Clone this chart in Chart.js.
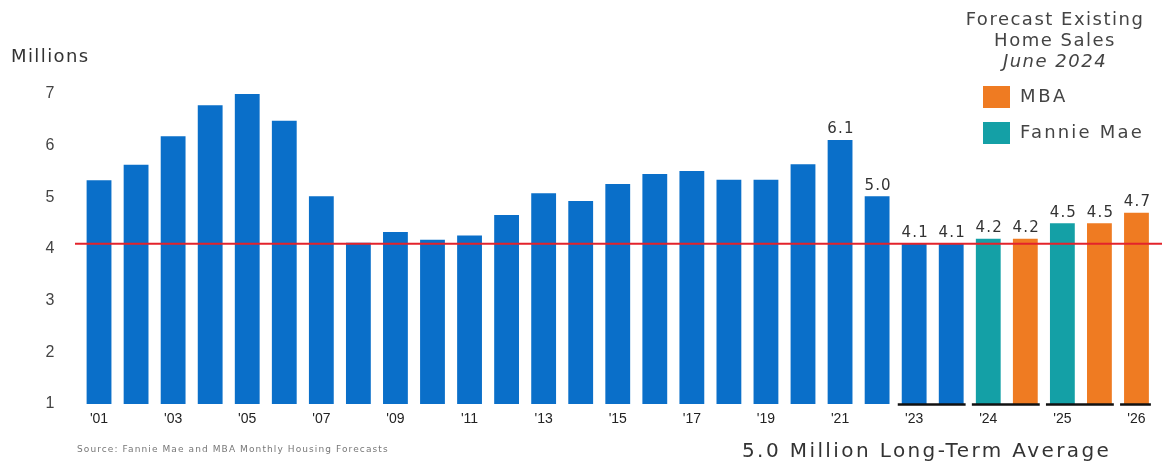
<!DOCTYPE html>
<html>
<head>
<meta charset="utf-8">
<script src="https://cdn.jsdelivr.net/npm/chart.js@4/dist/chart.umd.min.js"></script>
<style>
  html, body { margin: 0; padding: 0; background: #fff; }
  #wrap { position: relative; width: 1162px; height: 464px; overflow: hidden; }
  #c { position: absolute; left: 0; top: 0; }
  .t { position: absolute; font-family: "DejaVu Sans", sans-serif; color: #444; white-space: nowrap; }
</style>
</head>
<body>
<div id="wrap">
  <canvas id="c" width="1162" height="464"></canvas>
  <div class="t" style="left:11px; top:45px; font-size:18px; letter-spacing:1.4px; color:#333;">Millions</div>
  <div class="t" style="left:950px; top:8px; width:210px; text-align:center; font-size:18px; letter-spacing:1.5px; line-height:21px; color:#444;">Forecast Existing<br>Home Sales<br><i>June 2024</i></div>
  <div class="t" style="left:1020px; top:85px; font-size:18px; letter-spacing:2.6px;">MBA</div>
  <div class="t" style="left:1020px; top:121px; font-size:18px; letter-spacing:2.2px;">Fannie Mae</div>
  <div class="t" style="left:77px; top:444px; font-size:9px; letter-spacing:1.1px; color:#777;">Source: Fannie Mae and MBA Monthly Housing Forecasts</div>
  <div class="t" style="left:742px; top:438px; font-size:20px; letter-spacing:2.4px; color:#333;">5.0 Million Long-Term Average</div>
</div>
<script>
// ---- data ----
const categories = ["'01","'02","'03","'04","'05","'06","'07","'08","'09","'10","'11","'12","'13","'14","'15","'16","'17","'18","'19","'20","'21","'22","'23","'23","'24","'24","'25","'25","'26"];
const tickLabels = ["'01","","'03","","'05","","'07","","'09","","'11","","'13","","'15","","'17","","'19","","'21","","'23","","'24","","'25","","'26"];
const salesValues = [5.33,5.63,6.18,6.78,7.0,6.48,5.02,4.12,4.33,4.18,4.26,4.66,5.08,4.93,5.26,5.45,5.51,5.34,5.34,5.64,6.11,5.02,4.1,4.1,4.2,4.2,4.5,4.5,4.7];
const sources = ["actual","actual","actual","actual","actual","actual","actual","actual","actual","actual","actual","actual","actual","actual","actual","actual","actual","actual","actual","actual","actual","actual","actual","actual","fannie","mba","fannie","mba","mba"];
const valueLabels = [null,null,null,null,null,null,null,null,null,null,null,null,null,null,null,null,null,null,null,null,"6.1","5.0","4.1","4.1","4.2","4.2","4.5","4.5","4.7"];
const yearGroups = [[22,23],[24,25],[26,27],[28,28]];
const referenceLine = 4.1;
const legendItems = ["MBA","Fannie Mae"];

const palette = { actual: "#0a6fc9", fannie: "#14a0a6", mba: "#ef7b22" };

const legendPlugin = {
  id: 'legendBoxes',
  afterDraw(chart) {
    const ctx = chart.ctx;
    ctx.save();
    ctx.fillStyle = palette.mba;
    ctx.fillRect(983, 86, 27, 22);
    ctx.fillStyle = palette.fannie;
    ctx.fillRect(983, 122, 27, 22);
    ctx.restore();
  }
};

const extrasPlugin = {
  id: 'extras',
  afterDatasetsDraw(chart) {
    const ctx = chart.ctx;
    const x = chart.scales.x, y = chart.scales.y;
    const meta = chart.getDatasetMeta(0);
    ctx.save();
    // reference line
    const ry = y.getPixelForValue(referenceLine);
    ctx.strokeStyle = "#e3232b";
    ctx.lineWidth = 2;
    ctx.beginPath();
    ctx.moveTo(75, ry);
    ctx.lineTo(chart.width, ry);
    ctx.stroke();
    // group underlines
    ctx.strokeStyle = "#111";
    ctx.lineWidth = 2.5;
    const by = y.getPixelForValue(1) + 0.5;
    yearGroups.forEach(g => {
      const b0 = meta.data[g[0]], b1 = meta.data[g[1]];
      ctx.beginPath();
      ctx.moveTo(b0.x - b0.width / 2 - 4, by);
      ctx.lineTo(b1.x + b1.width / 2 + 2, by);
      ctx.stroke();
    });
    // value labels
    ctx.fillStyle = "#333";
    ctx.font = "15px 'DejaVu Sans', sans-serif";
    ctx.letterSpacing = "1.2px";
    ctx.textAlign = "center";
    ctx.textBaseline = "bottom";
    valueLabels.forEach((lab, i) => {
      if (!lab) return;
      const bar = meta.data[i];
      ctx.fillText(lab, bar.x + 1, bar.y - 3);
    });
    ctx.restore();
  }
};

new Chart(document.getElementById('c'), {
  type: 'bar',
  data: {
    labels: categories,
    datasets: [{
      data: salesValues,
      backgroundColor: sources.map(s => palette[s]),
      borderWidth: 0,
      categoryPercentage: 1.0,
      barPercentage: 0.67
    }]
  },
  options: {
    responsive: false,
    animation: false,
    devicePixelRatio: 1,
    layout: { padding: { left: 0, right: 7, top: 94, bottom: 0 } },
    plugins: { legend: { display: false }, tooltip: { enabled: false } },
    scales: {
      x: {
        grid: { display: false, drawTicks: false },
        border: { display: false },
        ticks: {
          autoSkip: false, maxRotation: 0, minRotation: 0, padding: 7,
          color: "#222", font: { family: "'Liberation Sans', Arial, sans-serif", size: 14 },
          callback: (v, i) => tickLabels[i]
        },
        afterFit(s) { s.height = 60; }
      },
      y: {
        min: 1, max: 7,
        grid: { display: false, drawTicks: false },
        border: { display: false },
        ticks: {
          stepSize: 1, padding: 26, color: "#444",
          font: { family: "'Liberation Sans', Arial, sans-serif", size: 16 }
        },
        afterFit(s) { s.width = 80.5; }
      }
    }
  },
  plugins: [extrasPlugin, legendPlugin]
});
</script>
</body>
</html>
